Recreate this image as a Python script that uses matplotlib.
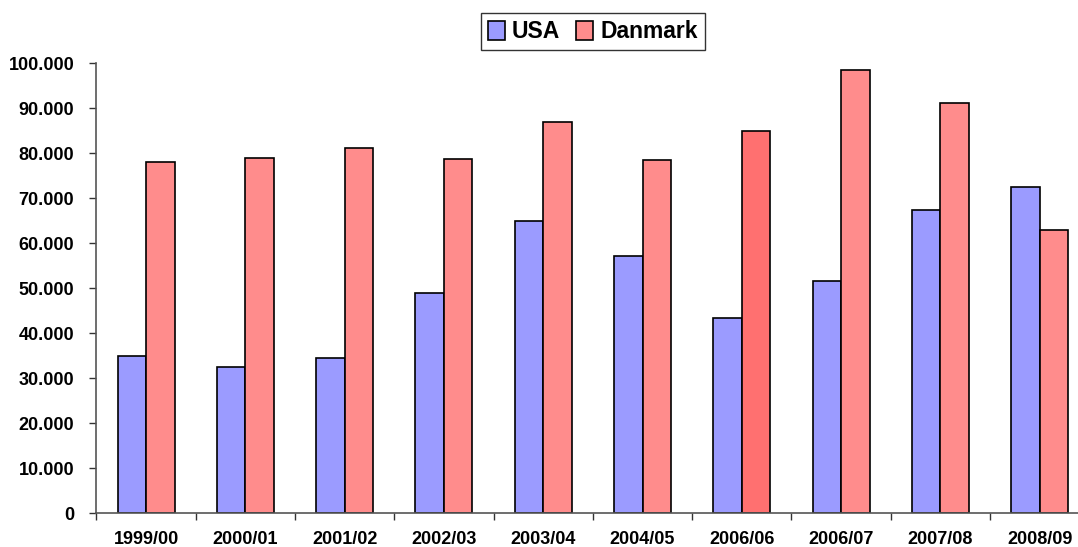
import numpy as np
import matplotlib
matplotlib.use("Agg")
import matplotlib.pyplot as plt
from matplotlib.ticker import FuncFormatter, FixedLocator

# Values
seasons = ['1999/00', '2000/01', '2001/02', '2002/03', '2003/04',
           '2004/05', '2006/06', '2006/07', '2007/08', '2008/09']
usa = [35000, 32400, 34400, 49000, 65000, 57200, 43400, 51700, 67300, 72400]
danmark = [78100, 78900, 81200, 78700, 87000, 78500, 85000, 98500, 91200, 63000]

plt.rcParams['font.family'] = ['Liberation Sans', 'DejaVu Sans']
plt.rcParams['font.weight'] = 'bold'

fig = plt.figure(figsize=(10.78, 5.47), dpi=100)
ax = fig.add_axes([0.0895, 0.0616, 0.921, 0.8227])

x = np.arange(len(seasons))
w = 0.287
dk_colors = ['#FF8C8C'] * len(seasons)
dk_colors[6] = '#FF7070'  # highlighted bar in the original

ax.bar(x - w / 2, usa, w, color='#9B9BFF', edgecolor='black', linewidth=1.2, label='USA')
bars = ax.bar(x + w / 2, danmark, w, color=dk_colors, edgecolor='black', linewidth=1.2, label='Danmark')

ax.set_xlim(-0.5, len(seasons) - 0.5)
ax.set_ylim(0, 100000)
ax.set_yticks(np.arange(0, 100001, 10000))
ax.yaxis.set_major_formatter(FuncFormatter(lambda v, p: '0' if v == 0 else f'{int(v):,}'.replace(',', '.')))

ax.set_xticks(x)
ax.set_xticklabels(seasons)
ax.xaxis.set_minor_locator(FixedLocator(np.arange(-0.5, len(seasons), 1.0)))
ax.tick_params(axis='x', which='major', length=0, pad=13, labelsize=13)
ax.tick_params(axis='x', which='minor', length=5, width=1, direction='out', color='#333333')
ax.tick_params(axis='y', length=5, width=1, direction='out', pad=11, labelsize=13, color='#333333')

for s in ['top', 'right']:
    ax.spines[s].set_visible(False)
for s in ['left', 'bottom']:
    ax.spines[s].set_color('#555555')
    ax.spines[s].set_linewidth(1.2)

handles, labels = ax.get_legend_handles_labels()
handles[1] = bars[0]
leg = fig.legend(handles, labels, loc='upper center', bbox_to_anchor=(0.550, 0.976), ncol=2,
                 fontsize=16.5, frameon=True, fancybox=False, edgecolor='black',
                 handlelength=0.75, handleheight=0.9, handletextpad=0.3, columnspacing=0.7,
                 borderpad=0.3, borderaxespad=0)
leg.get_frame().set_linewidth(1.0)

fig.savefig('out.png', dpi=100)
